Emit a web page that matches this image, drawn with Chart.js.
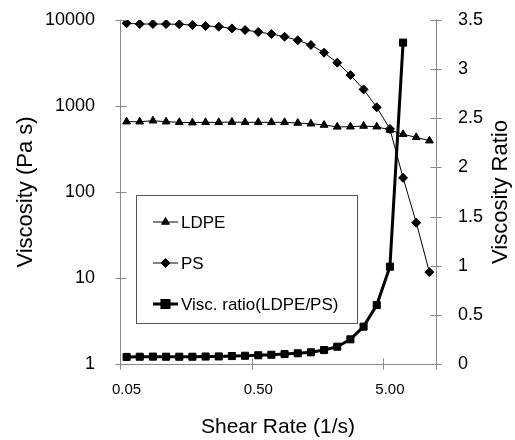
<!DOCTYPE html>
<html>
<head>
<meta charset="utf-8">
<script src="https://cdn.jsdelivr.net/npm/chart.js@4"></script>
<style>
  html, body { margin: 0; padding: 0; background: #fff; }
  #wrap { width: 515px; height: 440px; }
</style>
</head>
<body>
<div id="wrap"><canvas id="chart" width="515" height="440"></canvas></div>
<script>
const shearRate = ["0.05", "0.06", "0.08", "0.10", "0.13", "0.16", "0.20", "0.25",
  "0.32", "0.40", "0.50", "0.63", "0.79", "1.00", "1.26", "1.58", "2.00", "2.51",
  "3.16", "3.98", "5.00", "6.29", "7.92", "9.98"];
const ldpe = [657, 657, 674, 657, 646, 640, 646, 646, 650, 646, 646, 646,
  646, 634, 622, 601, 572, 574, 585, 574, 526, 469, 432, 395];
const ps = [9160, 8980, 8980, 8980, 8900, 8750, 8520, 8360, 7990, 7650, 7250, 6870,
  6390, 5810, 5120, 4170, 3190, 2290, 1560, 966, 541, 146, 44, 11.7];
const viscRatio = [0.072, 0.074, 0.075, 0.074, 0.074, 0.074, 0.076, 0.077, 0.081, 0.084,
  0.089, 0.094, 0.101, 0.109, 0.119, 0.142, 0.176, 0.251, 0.38, 0.60, 0.99, 3.27, null, null];
const viscTicks = [1, 10, 100, 1000, 10000];
const xTickIndex = [0, 10, 20];

const FONT = "'Liberation Sans', Arial, sans-serif";
const AXIS_GRAY = "#8a8a8a";

// axis lines and the little cross ticks, like the spreadsheet original
const axisPlugin = {
  id: "axisMarks",
  afterDatasetsDraw(chart) {
    const { ctx, chartArea: a, scales } = chart;
    ctx.save();
    ctx.strokeStyle = AXIS_GRAY;
    ctx.lineWidth = 1;
    ctx.beginPath();
    const L = Math.round(a.left) + 0.5;
    const R = Math.round(a.right) + 0.5;
    const B = Math.round(a.bottom) + 0.5;
    ctx.moveTo(L, a.top - 0.5); ctx.lineTo(L, B);
    ctx.moveTo(R, a.top - 0.5); ctx.lineTo(R, B);
    ctx.moveTo(L, B); ctx.lineTo(R, B);
    scales.y.ticks.forEach((t) => {
      const y = Math.round(scales.y.getPixelForValue(t.value)) + 0.5;
      ctx.moveTo(L - 5, y); ctx.lineTo(L + 6, y);
    });
    scales.y1.ticks.forEach((t) => {
      const y = Math.round(scales.y1.getPixelForValue(t.value)) + 0.5;
      ctx.moveTo(R - 6, y); ctx.lineTo(R + 5, y);
    });
    [0, 10, 20, shearRate.length].forEach((i) => {
      const x = Math.round(scales.x.getPixelForValue(i - 0.5)) + 0.5;
      ctx.moveTo(x, B - 6); ctx.lineTo(x, B + 5);
    });
    ctx.stroke();

    // right axis title reads bottom to top
    ctx.fillStyle = "#000";
    ctx.font = "22px " + FONT;
    ctx.textAlign = "center";
    ctx.textBaseline = "middle";
    ctx.translate(501, (a.top + a.bottom) / 2);
    ctx.rotate(-Math.PI / 2);
    ctx.fillText("Viscosity Ratio", 0, 0);
    ctx.restore();
  },
};

const legendPlugin = {
  id: "boxLegend",
  afterDraw(chart) {
    const { ctx } = chart;
    const box = { x: 136.5, y: 195.5, w: 221, h: 128 };
    ctx.save();
    ctx.fillStyle = "#fff";
    ctx.strokeStyle = "#555";
    ctx.lineWidth = 1;
    ctx.fillRect(box.x, box.y, box.w, box.h);
    ctx.strokeRect(box.x, box.y, box.w, box.h);
    const rows = [222, 263, 304];
    chart.data.datasets.forEach((ds, i) => {
      const y = rows[i];
      ctx.strokeStyle = "#000";
      ctx.fillStyle = "#000";
      ctx.lineWidth = ds.borderWidth;
      ctx.beginPath();
      ctx.moveTo(153, y); ctx.lineTo(178, y);
      ctx.stroke();
      Chart.helpers.drawPoint(ctx, {
        pointStyle: ds.pointStyle, radius: ds.pointRadius, rotation: 0, borderWidth: 1,
      }, 165.5, y);
      ctx.font = "17px " + FONT;
      ctx.textAlign = "left";
      ctx.textBaseline = "middle";
      ctx.fillText(ds.label, 181, y + 1);
    });
    ctx.restore();
  },
};

const noOverflow = (s) => { s.paddingTop = 0; s.paddingBottom = 0; };

new Chart(document.getElementById("chart"), {
  type: "line",
  data: {
    labels: shearRate,
    datasets: [
      {
        label: "LDPE", data: ldpe, yAxisID: "y",
        borderColor: "#000", backgroundColor: "#000", borderWidth: 1,
        pointStyle: "triangle", pointRadius: 4.5, pointBorderWidth: 1, tension: 0,
      },
      {
        label: "PS", data: ps, yAxisID: "y",
        borderColor: "#000", backgroundColor: "#000", borderWidth: 1,
        pointStyle: "rectRot", pointRadius: 4.5, pointBorderWidth: 1, tension: 0,
      },
      {
        label: "Visc. ratio(LDPE/PS)", data: viscRatio, yAxisID: "y1",
        borderColor: "#000", backgroundColor: "#000", borderWidth: 3,
        pointStyle: "rect", pointRadius: 5, pointBorderWidth: 1, tension: 0,
      },
    ],
  },
  options: {
    responsive: false,
    animation: false,
    layout: { padding: { top: 20, left: 0, right: 0, bottom: 0 } },
    plugins: { legend: { display: false }, tooltip: { enabled: false } },
    scales: {
      x: {
        type: "category",
        offset: true,
        grid: { display: false, offset: true },
        border: { display: false },
        ticks: {
          autoSkip: false, maxRotation: 0, padding: 9, color: "#000",
          font: { family: FONT, size: 15 },
          callback: (v, i) => (xTickIndex.includes(i) ? shearRate[i] : ""),
        },
        title: {
          display: true, text: "Shear Rate (1/s)", color: "#000",
          font: { family: FONT, size: 21 }, padding: { top: 0, bottom: 0 },
        },
        afterFit: (s) => { s.height = 76; s.paddingLeft = 0; s.paddingRight = 0; },
      },
      y: {
        type: "logarithmic", position: "left", min: 1, max: 10000,
        grid: { display: false },
        border: { display: false },
        afterBuildTicks: (s) => { s.ticks = viscTicks.map((v) => ({ value: v })); },
        ticks: {
          padding: 17, color: "#000", font: { family: FONT, size: 18 },
          callback: (v) => String(v),
        },
        title: {
          display: true, text: "Viscosity (Pa s)", color: "#000",
          font: { family: FONT, size: 22 }, padding: { top: 13, bottom: 0 },
        },
        afterFit: (s) => { s.width = 120; noOverflow(s); },
      },
      y1: {
        type: "linear", position: "right", min: 0, max: 3.5,
        grid: { display: false },
        border: { display: false },
        ticks: {
          stepSize: 0.5, padding: 14, color: "#000", font: { family: FONT, size: 18 },
          callback: (v) => String(v),
        },
        afterFit: (s) => { s.width = 79; noOverflow(s); },
      },
    },
  },
  plugins: [axisPlugin, legendPlugin],
});
</script>
</body>
</html>
